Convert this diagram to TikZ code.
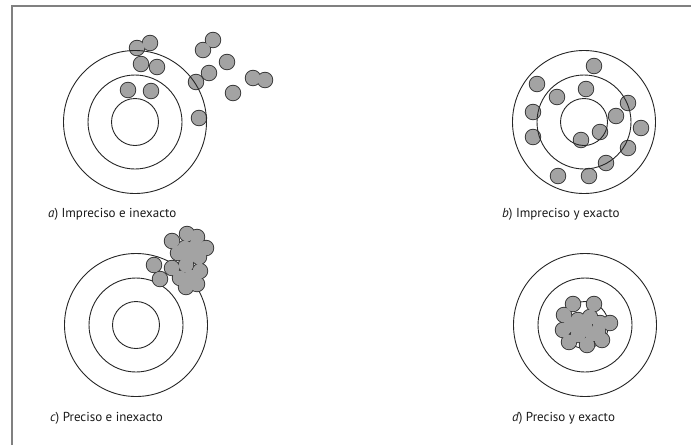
\documentclass[tikz,border=0pt]{standalone}
\usepackage{fontspec}
\setmainfont{PT Sans}
\newcommand\shotset[1]{%
  \foreach \p in {#1} {\draw[dotline] \p circle[radius=7.3pt];}%
  \foreach \p in {#1} {\fill[dotfill] \p circle[radius=7.3pt];}}
\newcommand\drawtarget[1]{%
  \draw[ring] #1 circle[radius=71.5pt];
  \draw[ring] #1 circle[radius=47pt];
  \draw[ring] #1 circle[radius=23.5pt];}
\begin{document}
\begin{tikzpicture}[x=1pt,y=-1pt,
  ring/.style={draw=black!85,line width=0.9pt},
  dotline/.style={draw=black!80,line width=1.8pt},
  dotfill/.style={fill=black!36},
  lbl/.style={anchor=base west,inner sep=0pt,font=\fontsize{13}{15}\selectfont,text=black!90},
  frameline/.style={draw=black!50,line width=2pt}]
\useasboundingbox (0,0) rectangle (691,445);
\draw[frameline] (12,445) -- (12,6) -- (691,6);
% a) Impreciso e inexacto
\shotset{(137,48),(150,43),(141,64),(157,67),(128,90),(151,91),
  (213,40),(203,50),(227,62),(209,73),(196,82),(253,78),(265,80),(233,93),(199,118)}
\drawtarget{(135,122)}
\node[lbl] (la) at (48,217) {{\itshape a}) Impreciso e inexacto};
% b) Impreciso y exacto
\shotset{(594,66),(537,84),(586,89),(557,97),(628,103),(533,112),(616,116),
  (641,128),(600,132),(533,137),(581,140),(628,148),(606,163),(558,176),(589,176)}
\drawtarget{(584,122)}
\node[lbl] (lb) at (502,217) {{\itshape b}) Impreciso y exacto};
% c) Preciso e inexacto
\drawtarget{(136,325)}
\shotset{(154,265),(160,279),
  (172,241),(187,234),(197,237),(206,248),(199,257),(185,248),(195,247),(178,253),(188,257),
  (172,268),(186,265),(200,271),(197,284),(186,287),(180,278),(191,277)}
\node[lbl] (lc) at (50,421) {{\itshape c}) Preciso e inexacto};
% d) Preciso y exacto
\drawtarget{(585,325)}
\shotset{(573,304),(594,304),(564,315),(610,323),(563,330),(569,342),(587,345),
  (602,340),(578,320),(590,317),(600,323),(578,335),(592,334),(585,326),(571,325),(598,331)}
\node[lbl] (ld) at (512,421) {{\itshape d}) Preciso y exacto};
\end{tikzpicture}
\end{document}
